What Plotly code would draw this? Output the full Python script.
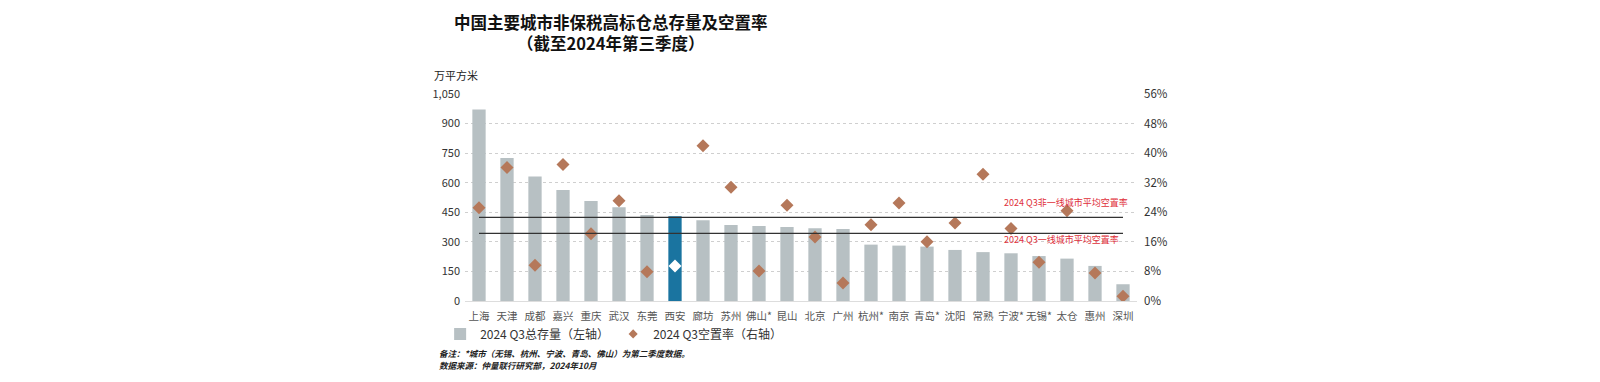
import plotly.graph_objects as go

cities = ["上海", "天津", "成都", "嘉兴", "重庆", "武汉", "东莞", "西安", "廊坊", "苏州",
          "佛山*", "昆山", "北京", "广州", "杭州*", "南京", "青岛*", "沈阳", "常熟", "宁波*",
          "无锡*", "太仓", "惠州", "深圳"]
stock = [972, 725, 631, 563, 507, 475, 436, 430, 409, 386,
         380, 375, 369, 365, 286, 281, 276, 259, 248, 242,
         228, 215, 178, 85]
vacancy = [25.2, 36.1, 9.7, 36.9, 18.2, 27.1, 7.9, 9.5, 42.0, 30.8,
           8.1, 25.9, 17.3, 4.9, 20.6, 26.5, 16.0, 21.1, 34.3, 19.6,
           10.5, 24.4, 7.6, 1.3]
highlight = "西安"
avg_non_tier1 = 22.6
avg_tier1 = 18.3
left_ticks = [0, 150, 300, 450, 600, 750, 900, 1050]
right_ticks = [0, 8, 16, 24, 32, 40, 48, 56]
right_labels = [f"{v}%" for v in right_ticks]

FONT = "Noto Sans CJK SC"
GRAY_BAR = "#b7c0c3"
BLUE_BAR = "#1a74a0"
BROWN = "#b5785a"
RED = "#e0303a"

bar_colors = [BLUE_BAR if c == highlight else GRAY_BAR for c in cities]
dia_colors = ["#ffffff" if c == highlight else BROWN for c in cities]

fig = go.Figure()
fig.add_trace(go.Bar(x=cities, y=stock, name="2024 Q3总存量（左轴）",
                     marker=dict(color=bar_colors, line=dict(width=0)), yaxis="y"))
fig.add_trace(go.Scatter(x=cities, y=vacancy, name="2024 Q3空置率（右轴）", mode="markers",
                         marker=dict(symbol="diamond", size=10, color=dia_colors, line=dict(width=0)),
                         yaxis="y2", showlegend=False))
# legend-only entry with a smaller diamond, as in the reference legend
fig.add_trace(go.Scatter(x=[None], y=[None], name="2024 Q3空置率（右轴）", mode="markers",
                         marker=dict(symbol="diamond", size=7, color=BROWN, line=dict(width=0)),
                         yaxis="y2", showlegend=True))
for v in [avg_non_tier1, avg_tier1]:
    fig.add_trace(go.Scatter(x=[cities[0], cities[-1]], y=[v, v], mode="lines",
                             line=dict(color="#333333", width=1.3), yaxis="y2",
                             showlegend=False, hoverinfo="skip"))

annotations = [
    dict(text="<b>中国主要城市非保税高标仓总存量及空置率<br>（截至2024年第三季度）</b>",
         xref="paper", yref="paper", x=0.2175, y=1.295, xanchor="center", yanchor="middle",
         align="center", showarrow=False,
         font=dict(size=16.5, color="#111111", family=FONT)),
    dict(text="万平方米", xref="paper", yref="paper", x=-0.0486, y=1.092,
         xanchor="left", yanchor="middle", showarrow=False,
         font=dict(size=11, color="#222222", family=FONT)),
    dict(text="2024 Q3非一线城市平均空置率", xref="x", yref="y2", x=cities[-1], y=avg_non_tier1,
         xanchor="right", yanchor="middle", xshift=7, yshift=15, showarrow=False,
         font=dict(size=9, color=RED, family=FONT)),
    dict(text="2024 Q3一线城市平均空置率", xref="x", yref="y2", x=cities[-1], y=avg_tier1,
         xanchor="right", yanchor="middle", xshift=-2, yshift=-6, showarrow=False,
         font=dict(size=9, color=RED, family=FONT)),
    dict(text="<b><i>备注：*城市（无锡、杭州、宁波、青岛、佛山）为第二季度数据。</i></b>", xref="paper", yref="paper",
         x=-0.041, y=-0.251, xanchor="left", yanchor="middle", showarrow=False,
         font=dict(size=8.5, color="#222222", family=FONT)),
    dict(text="<b><i>数据来源：仲量联行研究部，2024年10月</i></b>", xref="paper", yref="paper",
         x=-0.041, y=-0.309, xanchor="left", yanchor="middle", showarrow=False,
         font=dict(size=8.5, color="#222222", family=FONT)),
]

fig.update_layout(
    width=1584, height=366, autosize=False,
    margin=dict(l=457, r=455, t=86, b=73, autoexpand=False),
    paper_bgcolor="white", plot_bgcolor="white",
    font=dict(family=FONT, size=11, color="#333333"),
    bargap=0.525,
    showlegend=True,
    legend=dict(orientation="h", x=-0.037, y=-0.159, xanchor="left", yanchor="middle",
                font=dict(size=12, color="#333333", family=FONT),
                bgcolor="rgba(0,0,0,0)", entrywidth=128, entrywidthmode="pixels"),
    xaxis=dict(range=[-0.5, len(cities) - 0.5], showgrid=False, showline=True,
               linecolor="#dddddd", linewidth=1, ticks="", tickangle=0, automargin=False,
               ticklabelstandoff=5,
               tickfont=dict(size=10.5, color="#555555", family=FONT), fixedrange=True),
    yaxis=dict(range=[0, 1050], tickvals=left_ticks, tickformat=",", showgrid=True,
               gridcolor="#cfcfcf", griddash="dot", gridwidth=1, zeroline=False, automargin=False,
               ticklabelstandoff=4,
               tickfont=dict(size=11, color="#333333", family=FONT), ticks=""),
    yaxis2=dict(range=[0, 56], tickvals=right_ticks, ticktext=right_labels, overlaying="y",
                side="right", showgrid=False, zeroline=False, automargin=False,
                ticklabelstandoff=6,
                tickfont=dict(size=11.5, color="#333333", family=FONT), ticks=""),
    annotations=annotations,
)

fig.write_html("out.html")
